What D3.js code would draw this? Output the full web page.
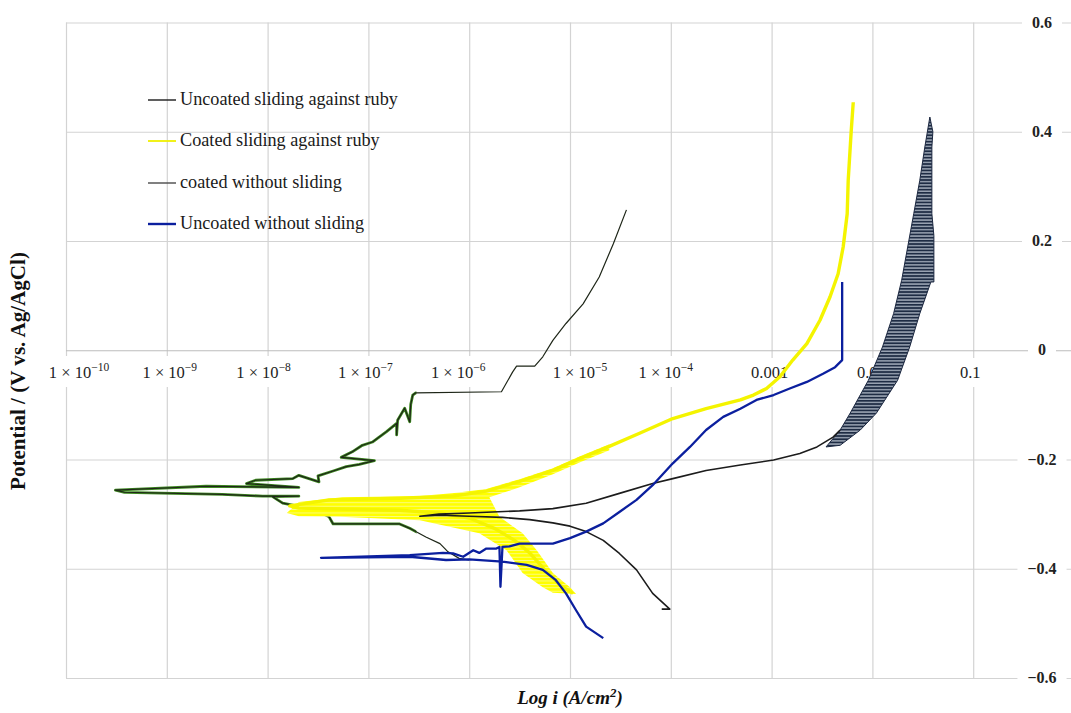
<!DOCTYPE html>
<html><head><meta charset="utf-8">
<script src="https://cdn.jsdelivr.net/npm/d3@7"></script>
<style>body{margin:0;background:#fff}svg{display:block}</style>
</head><body>
<svg id="chart" width="1071" height="713"></svg>
<script>
// ---------- DATA (log10 of current density in A/cm², potential in V vs Ag/AgCl) ----------
const seriesNames = ["Uncoated sliding against ruby", "Coated sliding against ruby", "coated without sliding", "Uncoated without sliding"];
const xTickValues = [1e-10, 1e-9, 1e-8, 1e-7, 1e-6, 1e-5, 1e-4, 0.001, 0.01, 0.1];
const xTickLabels = ["1 × 10^−10", "1 × 10^−9", "1 × 10^−8", "1 × 10^−7", "1 × 10^−6", "1 × 10^−5", "1 × 10^−4", "0.001", "0.01", "0.1"];
const yTickValues = [-0.6, -0.4, -0.2, 0, 0.2, 0.4, 0.6];
const yTickLabels = ["−0.6", "−0.4", "−0.2", "0", "0.2", "0.4", "0.6"];

const uncoatedRuby = [[-6.00,-0.384],[-6.10,-0.381],[-6.21,-0.369],[-6.29,-0.354],[-6.43,-0.342],[-6.59,-0.326],[-6.69,-0.318],[-7.35,-0.318],[-7.39,-0.305],[-7.52,-0.293],[-7.65,-0.287],[-7.85,-0.280],[-7.95,-0.268],[-7.69,-0.267],[-8.05,-0.267],[-8.45,-0.264],[-9.42,-0.260],[-9.51,-0.256],[-8.61,-0.249],[-7.69,-0.251],[-8.21,-0.244],[-8.12,-0.238],[-7.75,-0.235],[-7.69,-0.229],[-7.49,-0.241],[-7.50,-0.230],[-7.35,-0.221],[-7.22,-0.213],[-7.09,-0.209],[-6.94,-0.202],[-7.27,-0.196],[-7.16,-0.186],[-7.06,-0.174],[-6.96,-0.168],[-6.82,-0.149],[-6.72,-0.134],[-6.72,-0.155],[-6.71,-0.128],[-6.64,-0.106],[-6.59,-0.131],[-6.58,-0.099],[-6.56,-0.082],[-6.53,-0.078],[-5.68,-0.076],[-5.57,-0.040],[-5.53,-0.029],[-5.35,-0.029],[-5.27,-0.012],[-5.17,0.018],[-5.04,0.049],[-4.87,0.085],[-4.71,0.134],[-4.57,0.195],[-4.44,0.257]];

const coatedRuby = [[-4.97,-0.445],[-5.10,-0.430],[-5.25,-0.402],[-5.40,-0.371],[-5.55,-0.348],[-5.75,-0.326],[-6.00,-0.307],[-6.29,-0.298],[-6.69,-0.293],[-7.19,-0.291],[-7.69,-0.289],[-7.78,-0.285],[-7.39,-0.274],[-6.69,-0.271],[-6.16,-0.267],[-5.83,-0.258],[-5.50,-0.240],[-5.17,-0.220],[-4.90,-0.198],[-4.61,-0.176],[-4.31,-0.152],[-3.98,-0.125],[-3.65,-0.107],[-3.31,-0.091],[-3.18,-0.082],[-3.05,-0.070],[-2.92,-0.049],[-2.79,-0.018],[-2.65,0.012],[-2.52,0.055],[-2.42,0.098],[-2.34,0.140],[-2.29,0.189],[-2.25,0.250],[-2.24,0.311],[-2.21,0.402],[-2.19,0.454]];

// noisy envelope of the coated/ruby curve near its corrosion potential
const coatedRubyNoise = [[-7.81,-0.298],[-7.69,-0.278],[-7.26,-0.269],[-6.49,-0.267],[-6.17,-0.262],[-5.83,-0.254],[-5.50,-0.236],[-5.17,-0.216],[-4.90,-0.194],[-4.61,-0.172],[-4.61,-0.183],[-4.90,-0.205],[-5.17,-0.227],[-5.50,-0.251],[-5.80,-0.269],[-5.70,-0.305],[-5.47,-0.335],[-5.33,-0.366],[-5.17,-0.408],[-5.00,-0.434],[-4.94,-0.446],[-5.17,-0.444],[-5.27,-0.434],[-5.47,-0.408],[-5.63,-0.366],[-5.90,-0.335],[-6.49,-0.311],[-7.28,-0.305],[-7.69,-0.304]];

const coatedNoSliding = [[-4.09,-0.474],[-4.01,-0.474],[-4.18,-0.445],[-4.34,-0.402],[-4.51,-0.372],[-4.67,-0.348],[-4.84,-0.332],[-5.00,-0.322],[-5.17,-0.316],[-5.40,-0.310],[-5.67,-0.306],[-6.00,-0.304],[-6.29,-0.302],[-6.49,-0.304],[-6.30,-0.300],[-6.00,-0.298],[-5.50,-0.294],[-5.17,-0.290],[-4.84,-0.280],[-4.51,-0.262],[-4.18,-0.244],[-3.98,-0.235],[-3.65,-0.220],[-3.31,-0.210],[-2.98,-0.201],[-2.72,-0.189],[-2.55,-0.177],[-2.39,-0.159],[-2.32,-0.146]];

// oscillating band of the coated-without-sliding anodic branch (left edge up, right edge down)
const coatedNoSlidingBand = [[-2.46,-0.177],[-2.32,-0.146],[-2.22,-0.115],[-2.04,-0.055],[-1.90,0.006],[-1.79,0.067],[-1.71,0.128],[-1.65,0.189],[-1.59,0.250],[-1.53,0.311],[-1.48,0.372],[-1.43,0.427],[-1.40,0.400],[-1.41,0.372],[-1.41,0.311],[-1.41,0.250],[-1.39,0.210],[-1.39,0.125],[-1.42,0.125],[-1.53,0.067],[-1.63,0.006],[-1.75,-0.055],[-1.96,-0.115],[-2.12,-0.146],[-2.32,-0.174]];

const uncoatedNoSliding = [[-4.67,-0.527],[-4.84,-0.506],[-4.94,-0.476],[-5.04,-0.445],[-5.14,-0.421],[-5.27,-0.402],[-5.43,-0.393],[-5.67,-0.387],[-6.00,-0.383],[-6.23,-0.384],[-6.59,-0.378],[-7.47,-0.380],[-6.59,-0.375],[-6.26,-0.371],[-6.16,-0.372],[-6.06,-0.378],[-5.96,-0.366],[-5.90,-0.371],[-5.83,-0.363],[-5.73,-0.363],[-5.70,-0.360],[-5.69,-0.433],[-5.67,-0.360],[-5.60,-0.359],[-5.50,-0.354],[-5.17,-0.354],[-5.00,-0.344],[-4.84,-0.332],[-4.67,-0.317],[-4.51,-0.296],[-4.34,-0.274],[-4.18,-0.247],[-3.98,-0.207],[-3.81,-0.177],[-3.65,-0.146],[-3.48,-0.122],[-3.31,-0.107],[-3.15,-0.091],[-2.98,-0.082],[-2.82,-0.070],[-2.65,-0.058],[-2.49,-0.043],[-2.37,-0.031],[-2.30,-0.018],[-2.30,0.125]];

// ---------- LAYOUT ----------
const W = 1071, H = 713;
const xLeft = 66, decadePx = 100.8;
const serif = "'Liberation Serif', 'Times New Roman', serif";
const xLabelNudge = [13, 3, -4, -3, -11, 10, -5, -2, -1, -3];

const svg = d3.select("#chart");
const x = d3.scaleLog().domain([1e-10, 1]).range([xLeft, xLeft + 10 * decadePx]);
const y = d3.scaleLinear().domain([-0.6, 0.6]).range([678, 22.5]);
const px = d => x(Math.pow(10, d[0]));
const py = d => y(d[1]);

// patterns / clip
const defs = svg.append("defs");
const pat = defs.append("pattern").attr("id", "bandPat").attr("patternUnits", "userSpaceOnUse")
  .attr("width", 6).attr("height", 3.2);
pat.append("rect").attr("width", 6).attr("height", 3.2).attr("fill", "#1e2c44");
pat.append("rect").attr("y", 1.9).attr("width", 6).attr("height", 1.1).attr("fill", "#c3ccd8");
const patY = defs.append("pattern").attr("id", "yelPat").attr("patternUnits", "userSpaceOnUse")
  .attr("width", 6).attr("height", 3.4);
patY.append("rect").attr("width", 6).attr("height", 3.4).attr("fill", "#ffff00");
patY.append("rect").attr("y", 2.6).attr("width", 6).attr("height", 0.8).attr("fill", "#fbfb9a");
defs.append("clipPath").attr("id", "noisyClip").append("rect")
  .attr("x", 0).attr("y", y(-0.07)).attr("width", x(3e-7)).attr("height", H);

// grid
const gridColor = "#d3d3d3";
const gx = svg.append("g").attr("transform", `translate(0,${y(-0.6)})`)
  .call(d3.axisBottom(x).tickValues(xTickValues).tickSize(-(y(-0.6) - y(0.6))).tickFormat(""));
gx.select(".domain").remove();
gx.selectAll(".tick line").attr("stroke", gridColor).attr("stroke-width", 1.2);

const gy = svg.append("g").attr("transform", `translate(${xLeft},0)`)
  .call(d3.axisRight(y).tickValues(yTickValues).tickSize(W - xLeft).tickFormat(""));
gy.select(".domain").remove();
gy.selectAll(".tick line").attr("stroke", d => d === 0 ? "#bcbcbc" : gridColor).attr("stroke-width", 1.2);

// x tick labels (on the zero line)
const xl = svg.append("g").selectAll("g").data(xTickValues).join("g")
  .attr("transform", (d, i) => `translate(${x(d) + xLabelNudge[i]},378)`);
xl.each(function (d, i) {
  const g = d3.select(this);
  const parts = xTickLabels[i].split("^");
  const t = g.append("text").attr("text-anchor", "middle").attr("font-family", serif)
    .attr("font-size", 16.5).attr("fill", "#222");
  t.append("tspan").text(parts[0]);
  if (parts[1]) t.append("tspan").attr("dy", -7).attr("font-size", 11.5).text(parts[1]);
  const bb = t.node().getBBox();
  g.insert("rect", "text").attr("x", bb.x - 4).attr("y", bb.y - 5).attr("width", bb.width + 8)
    .attr("height", bb.height + 10).attr("fill", "#fff");
});

// y tick labels (right side)
const yl = svg.append("g").selectAll("g").data(yTickValues).join("g")
  .attr("transform", d => `translate(1042,${y(d) + 5})`);
yl.each(function (d, i) {
  const g = d3.select(this);
  const t = g.append("text").attr("text-anchor", "middle").attr("font-family", serif)
    .attr("font-size", 16).attr("font-weight", "bold").attr("fill", "#222").text(yTickLabels[i]);
  const bb = t.node().getBBox();
  g.insert("rect", "text").attr("x", bb.x - 10).attr("y", bb.y - 2).attr("width", bb.width + 20)
    .attr("height", bb.height + 4).attr("fill", "#fff");
});

// helper to fit text to a measured width
function fit(t, target) {
  const fs = +t.attr("font-size");
  const len = t.node().getComputedTextLength();
  t.attr("font-size", fs * target / len);
}

// axis titles
const yTitle = svg.append("text").attr("transform", "translate(25,371) rotate(-90)")
  .attr("text-anchor", "middle").attr("font-family", serif).attr("font-weight", "bold")
  .attr("font-size", 17).attr("fill", "#111").text("Potential / (V vs. Ag/AgCl)");
fit(yTitle, 238);

const xTitle = svg.append("text").attr("x", 570).attr("y", 704).attr("text-anchor", "middle")
  .attr("font-family", serif).attr("font-weight", "bold").attr("font-style", "italic")
  .attr("font-size", 19).attr("fill", "#111");
xTitle.append("tspan").text("Log i (A/cm");
xTitle.append("tspan").attr("dy", -7).attr("font-size", 13).text("2");
xTitle.append("tspan").attr("dy", 7).text(")");

// ---------- CURVES ----------
const line = d3.line().x(px).y(py);
const plot = svg.append("g").attr("fill", "none").attr("stroke-linejoin", "round");

// Uncoated sliding against ruby (dark line, green in the noisy part)
plot.append("path").datum(uncoatedRuby).attr("d", line).attr("clip-path", "url(#noisyClip)")
  .attr("stroke", "#3f8a22").attr("stroke-width", 2.8);
plot.append("path").datum(uncoatedRuby).attr("d", line).attr("stroke", "#1e2618").attr("stroke-width", 1.2);

// Coated sliding against ruby (yellow)
plot.append("path").datum(coatedRubyNoise).attr("d", d => line(d) + "Z").attr("fill", "url(#yelPat)").attr("stroke", "none");
plot.append("path").datum(coatedRuby).attr("d", line).attr("stroke", "#f4f400").attr("stroke-width", 3.4);

// coated without sliding (dark grey with oscillating band)
plot.append("path").datum(coatedNoSlidingBand).attr("d", d => line(d) + "Z")
  .attr("fill", "url(#bandPat)").attr("stroke", "#1b2740").attr("stroke-width", 1);
plot.append("path").datum(coatedNoSliding).attr("d", line).attr("stroke", "#1c1c1c").attr("stroke-width", 1.6);

// Uncoated without sliding (blue)
plot.append("path").datum(uncoatedNoSliding).attr("d", line).attr("stroke", "#0b1f9e").attr("stroke-width", 2.3);

// ---------- LEGEND ----------
const legendColors = ["#1a1a1a", "#f0f000", "#4a4a4a", "#0b1f9e"];
const legendWidths = [1.4, 1.8, 1.4, 2.4];
const legendRowY = [100, 141, 183, 224];
const lg = svg.append("g");
let legendFont = 17;
seriesNames.forEach((name, i) => {
  lg.append("line").attr("x1", 148).attr("x2", 176).attr("y1", legendRowY[i]).attr("y2", legendRowY[i])
    .attr("stroke", legendColors[i]).attr("stroke-width", legendWidths[i]);
  const t = lg.append("text").attr("x", 180).attr("y", legendRowY[i] + 5).attr("font-family", serif)
    .attr("font-size", legendFont).attr("fill", "#1a1a1a").text(name);
  if (i === 0) { fit(t, 218); legendFont = +t.attr("font-size"); }
});
</script>
</body></html>
